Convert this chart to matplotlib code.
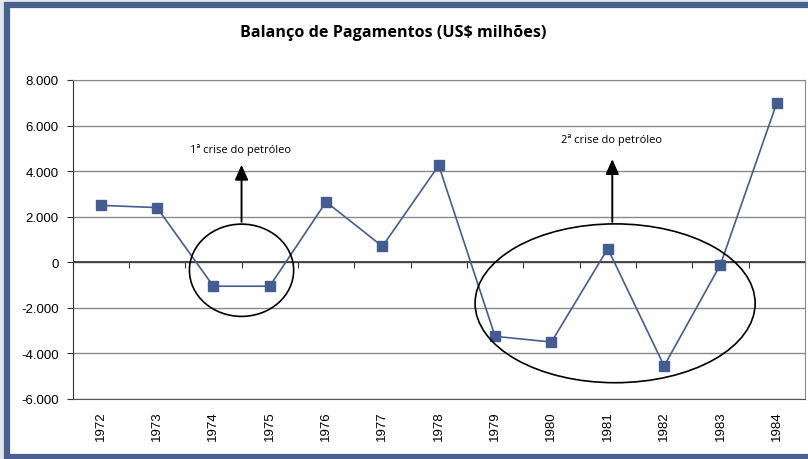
import numpy as np
import matplotlib.pyplot as plt
from matplotlib.patches import Ellipse, Rectangle

# Dados
anos = ['1972', '1973', '1974', '1975', '1976', '1977', '1978',
        '1979', '1980', '1981', '1982', '1983', '1984']
saldo = [2500, 2400, -1050, -1050, 2650, 700, 4250,
         -3250, -3500, 600, -4550, -100, 7000]
yticks = [-6000, -4000, -2000, 0, 2000, 4000, 6000, 8000]

azul = '#435d93'
x = np.arange(len(anos))

fig = plt.figure(figsize=(8.08, 4.6), dpi=100, facecolor='#e2e7ee')
ax = fig.add_axes([72.5 / 808, 60 / 460, 732.5 / 808, 319 / 460])

# moldura azul
fig.patches.append(Rectangle((7 / 808, 2 / 460), 1.2, 452 / 460, transform=fig.transFigure,
                             facecolor='white', edgecolor='#4a6190', lw=4.5, zorder=-1))

ax.plot(x, saldo, color=azul, lw=1.2, marker='s', markersize=6.5,
        markerfacecolor=azul, markeredgecolor=azul, zorder=3)

ax.set_xlim(-0.5, len(anos) - 0.5)
ax.set_ylim(-6000, 8000)
ax.set_yticks(yticks)
ax.set_yticklabels([f'{v:,}'.replace(',', '.') for v in yticks],
                   fontsize=9.5, family='Liberation Sans')
ax.grid(axis='y', color='#8a8a8a', lw=1)
ax.set_axisbelow(True)
ax.tick_params(axis='y', length=4, color='#333333', pad=6)

ax.set_xticks(x)
ax.set_xticklabels(anos, rotation=90, fontsize=9.5, family='Liberation Sans')
ax.tick_params(axis='x', length=0, pad=8)

for s in ['top', 'right']:
    ax.spines[s].set_color('#8a8a8a')
ax.spines['left'].set_color('#333333')
ax.spines['bottom'].set_color('#555555')

# eixo x no zero com marcas entre categorias
sec = ax.secondary_xaxis(6 / 14)
sec.set_xticks(np.arange(len(anos) + 1) - 0.5)
sec.tick_params(direction='out', length=4, labelbottom=False, labeltop=False,
                bottom=True, top=False, color='#333333')
sec.spines['bottom'].set_color('#333333')
sec.spines['top'].set_visible(False)
sec.xaxis.set_ticks_position('bottom')
sec.set_xticklabels([])
ax.axhline(0, color='#333333', lw=1.2, zorder=1)

# crises do petróleo
ax.add_patch(Ellipse((2.5, -350), 1.85, 4050, fill=False, edgecolor='black', lw=1.2, zorder=4))
ax.add_patch(Ellipse((9.13, -1800), 4.97, 6970, fill=False, edgecolor='black', lw=1.2, zorder=4))
seta = dict(arrowstyle='-|>,head_width=0.4,head_length=0.9', color='black', lw=1.4)
ax.annotate('', xy=(2.5, 4400), xytext=(2.5, 1650), arrowprops=seta)
ax.annotate('', xy=(9.08, 4650), xytext=(9.08, 1650), arrowprops=seta)
ax.text(2.48, 4950, '1ª crise do petróleo', ha='center', va='center', fontsize=8, family='Open Sans')
ax.text(9.06, 5400, '2ª crise do petróleo', ha='center', va='center', fontsize=8, family='Open Sans')

fig.text(393 / 808, 1 - 33 / 460, 'Balanço de Pagamentos (US$ milhões)', ha='center', va='center',
         fontsize=11.6, fontweight='bold', family='Open Sans')

fig.savefig('out.png', dpi=100, facecolor=fig.get_facecolor())
